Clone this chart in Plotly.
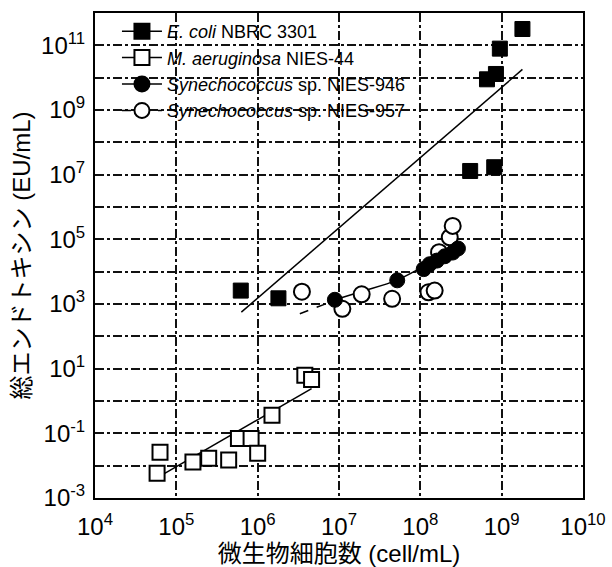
import plotly.graph_objects as go

# ---- data ----
ecoli_x = [6.2e5, 1.8e6, 4.1e8, 8.1e8, 6.6e8, 8.5e8, 9.5e8, 1.8e9]
ecoli_y = [2.6e3, 1.5e3, 1.3e7, 1.7e7, 8.9e9, 1.3e10, 7.9e10, 3.2e11]
ecoli_fit_x = [6.3e5, 1.8e9]
ecoli_fit_y = [5.6e2, 1.8e10]

maer_x = [6.3e4, 5.8e4, 1.6e5, 2.5e5, 4.4e5, 5.8e5, 8.3e5, 1.0e6, 1.5e6, 3.8e6, 4.6e6]
maer_y = [2.6e-2, 5.8e-3, 1.3e-2, 1.7e-2, 1.5e-2, 6.9e-2, 6.9e-2, 2.4e-2, 3.6e-1, 6.3, 4.6]
maer_fit_x = [7.2e4, 4.6e6]
maer_fit_y = [5.8e-3, 2.4]

syn946_x = [8.9e6, 5.2e7, 1.1e8, 1.3e8, 1.6e8, 2.0e8, 2.5e8, 2.9e8]
syn946_y = [1.35e3, 5.4e3, 1.2e4, 1.7e4, 2.2e4, 3.0e4, 3.9e4, 5.2e4]
syn946_fit_x = [8.9e6, 1.9e7, 5.1e7, 1.05e8, 1.75e8, 2.9e8]
syn946_fit_y = [1.35e3, 2.45e3, 5.4e3, 1.35e4, 2.55e4, 5.6e4]

syn957_x = [3.5e6, 1.1e7, 1.9e7, 4.5e7, 1.26e8, 1.5e8, 1.7e8, 2.3e8, 2.5e8]
syn957_y = [2.4e3, 7.1e2, 2.0e3, 1.45e3, 2.3e3, 2.6e3, 4.0e4, 1.15e5, 2.6e5]
syn957_fit_x = [3.3e6, 8.9e6]
syn957_fit_y = [5.0e2, 1.3e3]

legend_names = [
    "<i>E. coli</i> NBRC 3301",
    "<i>M. aeruginosa</i> NIES-44",
    "<i>Synechococcus</i> sp. NIES-946",
    "<i>Synechococcus</i> sp. NIES-957",
]

x_exps = [4, 5, 6, 7, 8, 9, 10]
y_exps = list(range(-3, 13))

FONT = "Liberation Sans, Arial, Noto Sans CJK JP, sans-serif"
MS = 15

fig = go.Figure()

# fit lines
fig.add_trace(go.Scatter(x=ecoli_fit_x, y=ecoli_fit_y, mode="lines",
                         line=dict(color="black", width=1.5), showlegend=False))
fig.add_trace(go.Scatter(x=maer_fit_x, y=maer_fit_y, mode="lines",
                         line=dict(color="black", width=1.5), showlegend=False))
fig.add_trace(go.Scatter(x=syn946_fit_x, y=syn946_fit_y, mode="lines",
                         line=dict(color="black", width=1.5, shape="spline"), showlegend=False))
fig.add_trace(go.Scatter(x=syn957_fit_x, y=syn957_fit_y, mode="lines",
                         line=dict(color="black", width=1.5, dash="dash"), showlegend=False))

# markers
fig.add_trace(go.Scatter(x=ecoli_x, y=ecoli_y, mode="markers", showlegend=False,
                         marker=dict(symbol="square", size=MS, color="black",
                                     line=dict(color="black", width=1))))
fig.add_trace(go.Scatter(x=maer_x, y=maer_y, mode="markers", showlegend=False,
                         marker=dict(symbol="square", size=MS, color="white",
                                     line=dict(color="black", width=2))))
fig.add_trace(go.Scatter(x=syn957_x, y=syn957_y, mode="markers", showlegend=False,
                         marker=dict(symbol="circle", size=MS + 1, color="white",
                                     line=dict(color="black", width=2))))
fig.add_trace(go.Scatter(x=syn946_x, y=syn946_y, mode="markers", showlegend=False,
                         marker=dict(symbol="circle", size=MS, color="black",
                                     line=dict(color="black", width=1))))

# legend proxies
styles = [
    ("square", "black", "solid"),
    ("square", "white", "solid"),
    ("circle", "black", "solid"),
    ("circle", "white", "dash"),
]
for name, (sym, fc, dash) in zip(legend_names, styles):
    fig.add_trace(go.Scatter(x=[None], y=[None], mode="lines+markers", name=name,
                             line=dict(color="black", width=1.5, dash=dash),
                             marker=dict(symbol=sym, size=MS, color=fc,
                                         line=dict(color="black", width=2))))

axis_common = dict(
    type="log", showline=True, linecolor="black", linewidth=2, mirror=True,
    showgrid=True, gridcolor="#111111", gridwidth=1.5, griddash="dashdot",
    ticks="", zeroline=False, automargin=False,
    tickfont=dict(family=FONT, size=24, color="black"),
)

fig.update_xaxes(
    **axis_common,
    range=[4, 10],
    tickvals=[10 ** e for e in x_exps],
    ticktext=[f"10<sup>{e}</sup>" for e in x_exps],
    ticklabelstandoff=6,
    title=dict(text="微生物細胞数 (cell/mL)", font=dict(family=FONT, size=24, color="black"),
               standoff=6),
)
fig.update_yaxes(
    **axis_common,
    range=[-3, 12],
    tickvals=[10.0 ** e for e in y_exps],
    ticktext=[f"10<sup>{e}</sup>" if (e % 2 != 0) else "" for e in y_exps],
    ticklabelstandoff=3,
    title=dict(text="総エンドトキシン (EU/mL)", font=dict(family=FONT, size=24, color="black"),
               standoff=4),
)

fig.update_layout(
    width=612, height=567,
    margin=dict(l=95, r=29, t=13, b=69),
    paper_bgcolor="white", plot_bgcolor="white",
    font=dict(family=FONT, color="black"),
    legend=dict(x=0.045, y=1.0, xanchor="left", yanchor="top",
                bgcolor="rgba(0,0,0,0)", borderwidth=0,
                font=dict(family=FONT, size=18, color="black"),
                itemwidth=40, tracegroupgap=0),
)

fig.write_html("out.html")
